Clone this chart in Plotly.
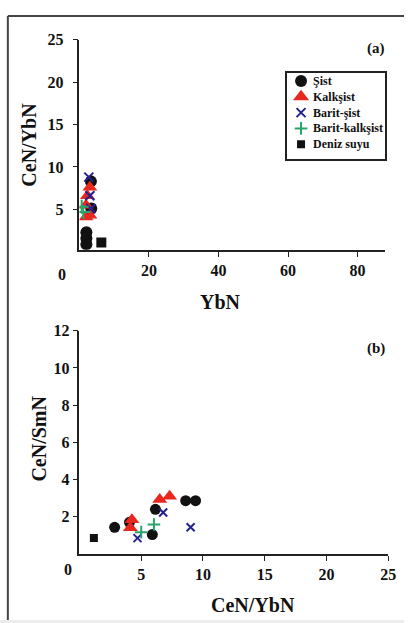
import plotly.graph_objects as go

W, H = 412, 623

# ---------- data: panel (a)  YbN vs CeN/YbN ----------
a_sist_x = [2.0, 2.0, 2.0, 3.4, 3.3]
a_sist_y = [0.9, 1.6, 2.3, 5.1, 8.3]
a_kalk_x = [1.9, 3.0, 1.9, 2.3, 3.0]
a_kalk_y = [4.1, 4.3, 5.5, 6.6, 7.6]
a_bsist_x = [2.7, 3.0, 3.3]
a_bsist_y = [8.8, 6.6, 5.1]
a_bkalk_x = [0.65, 1.1]
a_bkalk_y = [5.3, 4.7]
a_deniz_x = [6.3]
a_deniz_y = [1.1]

# ---------- data: panel (b)  CeN/YbN vs CeN/SmN ----------
b_sist_x = [2.85, 4.05, 5.9, 6.15, 8.6, 9.4]
b_sist_y = [1.43, 1.7, 1.04, 2.4, 2.86, 2.86]
b_kalk_x = [4.25, 4.12, 6.5, 7.3]
b_kalk_y = [1.84, 1.4, 2.93, 3.1]
b_bsist_x = [4.7, 6.78, 9.0]
b_bsist_y = [0.85, 2.23, 1.43]
b_bkalk_x = [5.0, 6.03]
b_bkalk_y = [1.17, 1.58]
b_deniz_x = [1.17]
b_deniz_y = [0.85]

names = ["Şist", "Kalkşist", "Barit-şist", "Barit-kalkşist", "Deniz suyu"]
a_tick_x = [20, 40, 60, 80]
a_tick_y = [5, 10, 15, 20, 25]
b_tick_x = [5, 10, 15, 20, 25]
b_tick_y = [2, 4, 6, 8, 10, 12]

FONT = "Liberation Serif"
BLK = "#111111"
RED = "#e8281e"
BLUE = "#23238f"
GREEN = "#2aa56a"

def px(x):
    return x / W

def py(y):
    return 1 - y / H

styles = [
    dict(symbol="circle", color=BLK, line=dict(width=0)),
    dict(symbol="triangle-up", color=RED, line=dict(width=0)),
    dict(symbol="x-thin", color=BLUE, line=dict(width=2, color=BLUE)),
    dict(symbol="cross-thin", color=GREEN, line=dict(width=2, color=GREEN)),
    dict(symbol="square", color=BLK, line=dict(width=0)),
]
a_sizes = [12, 13, 9, 10, 10]
b_sizes = [11, 13, 8, 9, 8]
leg_sizes = [12, 14, 9, 9, 8]

fig = go.Figure()
a_data = [(a_sist_x, a_sist_y), (a_kalk_x, a_kalk_y), (a_bsist_x, a_bsist_y),
          (a_bkalk_x, a_bkalk_y), (a_deniz_x, a_deniz_y)]
b_data = [(b_sist_x, b_sist_y), (b_kalk_x, b_kalk_y), (b_bsist_x, b_bsist_y),
          (b_bkalk_x, b_bkalk_y), (b_deniz_x, b_deniz_y)]

for i, (xs, ys) in enumerate(a_data):
    fig.add_trace(go.Scatter(x=xs, y=ys, mode="markers", name=names[i],
                             marker=dict(size=a_sizes[i], **styles[i]),
                             xaxis="x", yaxis="y", showlegend=False))
for i, (xs, ys) in enumerate(b_data):
    fig.add_trace(go.Scatter(x=xs, y=ys, mode="markers", name=names[i],
                             marker=dict(size=b_sizes[i], **styles[i]),
                             xaxis="x2", yaxis="y2", showlegend=False))

# legend drawn on its own small axis: one row per series
for i, nm in enumerate(names):
    fig.add_trace(go.Scatter(x=[14], y=[i], mode="markers", name=nm,
                             marker=dict(size=leg_sizes[i], **styles[i]),
                             xaxis="x3", yaxis="y3", showlegend=False,
                             hoverinfo="skip"))
    fig.add_annotation(text=nm, x=24, y=i, xref="x3", yref="y3",
                       xanchor="left", yanchor="middle", showarrow=False,
                       font=dict(family=FONT, size=12, color=BLK, weight="bold"))

axis_common = dict(showline=True, linecolor="#222", linewidth=1.5,
                   ticks="outside", ticklen=5, tickcolor="#222", tickwidth=1,
                   showgrid=False, zeroline=False,
                   tickfont=dict(family=FONT, size=16, color=BLK, weight="bold"))

fig.update_layout(
    width=W, height=H,
    margin=dict(l=0, r=0, t=0, b=0),
    paper_bgcolor="white", plot_bgcolor="white",
    xaxis=dict(domain=[px(81), px(393)], range=[0, 88], tickvals=a_tick_x,
               anchor="y", **axis_common),
    yaxis=dict(domain=[py(245), py(32)], range=[0.233, 25], tickvals=a_tick_y,
               anchor="x", ticklabelstandoff=6, **axis_common),
    xaxis2=dict(domain=[px(81), px(396)], range=[0, 25], tickvals=b_tick_x,
                anchor="y2", **axis_common),
    yaxis2=dict(domain=[py(553), py(327)], range=[0, 12], tickvals=b_tick_y,
                anchor="x2", **axis_common),
    xaxis3=dict(domain=[px(293), px(393)], range=[0, 100], anchor="y3",
                showline=True, mirror=True, linecolor="#222", linewidth=2,
                showticklabels=False, ticks="", showgrid=False, zeroline=False),
    yaxis3=dict(domain=[py(153), py(66)], range=[4.94, -0.5], anchor="x3",
                showline=True, mirror=True, linecolor="#222", linewidth=2,
                showticklabels=False, ticks="", showgrid=False, zeroline=False),
    showlegend=False,
)

anns = [
    dict(text="<b>0</b>", x=px(63), y=py(270), size=16, angle=0),
    dict(text="<b>0</b>", x=px(69), y=py(569), size=16, angle=0),
    dict(text="<b>(a)</b>", x=px(383), y=py(41), size=15, angle=0),
    dict(text="<b>(b)</b>", x=px(383), y=py(345), size=15, angle=0),
    dict(text="<b>CeN/YbN</b>", x=px(30), y=py(138), size=20, angle=-90),
    dict(text="<b>YbN</b>", x=px(225), y=py(298), size=20, angle=0),
    dict(text="<b>CeN/SmN</b>", x=px(40), y=py(436), size=20, angle=-90),
    dict(text="<b>CeN/YbN</b>", x=px(258), y=py(605), size=20, angle=0),
]
for a in anns:
    fig.add_annotation(text=a["text"], x=a["x"], y=a["y"], xref="paper", yref="paper",
                       xanchor="center", yanchor="middle", showarrow=False,
                       textangle=a["angle"],
                       font=dict(family=FONT, size=a["size"], color=BLK))

# outer frame and bottom band
fig.add_shape(type="rect", xref="paper", yref="paper", x0=0, x1=1, y0=0, y1=py(620),
              fillcolor="#ececec", line=dict(width=0), layer="below")
fig.add_shape(type="line", xref="paper", yref="paper", x0=px(8), x1=1, y0=py(8), y1=py(8),
              line=dict(color="#444", width=2))
fig.add_shape(type="line", xref="paper", yref="paper", x0=px(8), x1=px(8), y0=py(8), y1=py(620),
              line=dict(color="#444", width=2))

fig.write_html("out.html", config={"displayModeBar": False},
               post_script="document.body.style.margin='0';document.body.style.overflow='hidden';")
